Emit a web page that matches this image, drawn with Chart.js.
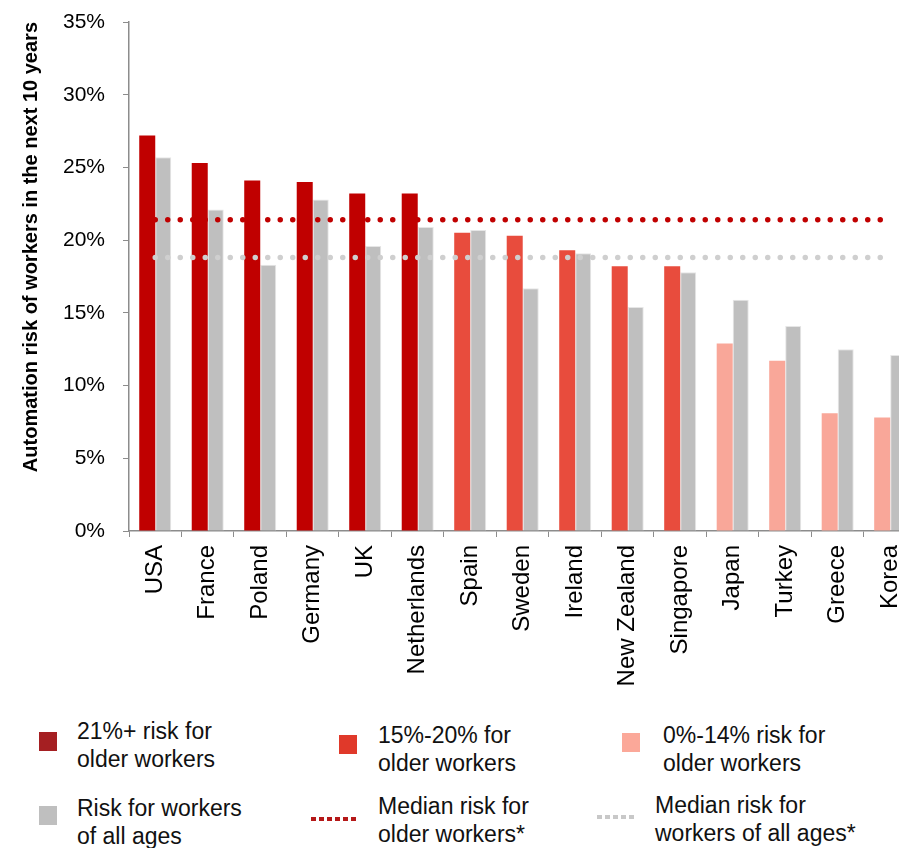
<!DOCTYPE html>
<html>
<head>
<meta charset="utf-8">
<script src="https://cdn.jsdelivr.net/npm/chart.js@4.4.1/dist/chart.umd.min.js"></script>
<style>
  html, body { margin: 0; padding: 0; background: #fff; overflow: hidden; width: 899px; height: 848px; }
  #wrap { position: relative; width: 899px; height: 848px; overflow: hidden; }
  #chartBox { position: absolute; left: 0; top: 0; width: 927px; height: 701px; }
  .leg { position: absolute; font-family: "Liberation Sans", Arial, sans-serif; font-size: 23px; line-height: 28px; color: #111; white-space: nowrap; }
  .sw { position: absolute; width: 18px; height: 19px; }
  .dots { position: absolute; height: 4px; }
</style>
</head>
<body>
<div id="wrap">
  <div id="chartBox"><canvas id="c" width="927" height="701"></canvas></div>

  <div class="sw" style="left:39px;top:732px;background:#A51F22;"></div>
  <div class="leg" style="left:77px;top:717px;">21%+ risk for<br>older workers</div>

  <div class="sw" style="left:339px;top:735px;background:#E0392A;"></div>
  <div class="leg" style="left:378px;top:721px;">15%-20% for<br>older workers</div>

  <div class="sw" style="left:622px;top:733px;background:#FBA899;"></div>
  <div class="leg" style="left:663px;top:721px;">0%-14% risk for<br>older workers</div>

  <div class="sw" style="left:39px;top:806px;background:#BFBFBF;"></div>
  <div class="leg" style="left:77px;top:794px;">Risk for workers<br>of all ages</div>

  <div class="dots" style="left:311px;top:817px;width:46px;background:repeating-linear-gradient(90deg,#B51818 0 5px,transparent 5px 8px);"></div>
  <div class="leg" style="left:378px;top:792px;">Median risk for<br>older workers*</div>

  <div class="dots" style="left:597px;top:815px;width:40px;background:repeating-linear-gradient(90deg,#C8C8C8 0 5px,transparent 5px 8px);"></div>
  <div class="leg" style="left:655px;top:791px;">Median risk for<br>workers of all ages*</div>
</div>

<script>
// ---- data ----
const countries = ['USA','France','Poland','Germany','UK','Netherlands','Spain','Sweden','Ireland','New Zealand','Singapore','Japan','Turkey','Greece','Korea'];
const olderWorkers = [27.2,25.3,24.1,24.0,23.2,23.2,20.5,20.3,19.3,18.2,18.2,12.9,11.7,8.1,7.8];
const allAges = [25.7,22.1,18.3,22.8,19.6,20.9,20.7,16.7,19.1,15.4,17.8,15.9,14.1,12.5,12.1];
const medianOlder = 21.4;
const medianAll = 18.8;
const yTicks = [0,5,10,15,20,25,30,35];

const DARK = '#C00000', MID = '#E84C3D', LIGHT = '#F9A799', GRAY = '#BFBFBF';
const olderColors = olderWorkers.map(v => v >= 21 ? DARK : (v >= 15 ? MID : LIGHT));

const FONT = '"Liberation Sans", Arial, sans-serif';

new Chart(document.getElementById('c'), {
  type: 'bar',
  data: {
    labels: countries,
    datasets: [
      {
        type: 'line', label: 'Median risk for older workers*',
        data: countries.map(() => medianOlder),
        borderColor: '#C00000', borderWidth: 5.5, borderDash: [0, 12.5], borderCapStyle: 'round',
        pointRadius: 0, fill: false, order: 0
      },
      {
        type: 'line', label: 'Median risk for workers of all ages*',
        data: countries.map(() => medianAll),
        borderColor: '#CFCFCF', borderWidth: 5.5, borderDash: [0, 12.5], borderCapStyle: 'round',
        pointRadius: 0, fill: false, order: 0
      },
      {
        label: 'Older workers', data: olderWorkers, backgroundColor: olderColors,
        borderWidth: 0, order: 1, categoryPercentage: 0.61, barPercentage: 1.0
      },
      {
        label: 'Risk for workers of all ages', data: allAges, backgroundColor: GRAY,
        borderColor: '#E6E6E6', borderWidth: 1, order: 1, categoryPercentage: 0.61, barPercentage: 1.0
      }
    ]
  },
  options: {
    responsive: false,
    animation: false,
    devicePixelRatio: 1,
    layout: { padding: { top: 22, right: 0, bottom: 0, left: 0 } },
    plugins: { legend: { display: false }, tooltip: { enabled: false } },
    scales: {
      x: {
        grid: { display: true, drawOnChartArea: false, drawTicks: true, tickLength: 6, color: '#8C8C8C', offset: true },
        border: { display: true, color: '#8C8C8C', width: 1.5 },
        ticks: {
          autoSkip: false, minRotation: 90, maxRotation: 90, padding: 8,
          color: '#000', font: { family: FONT, size: 24 }
        },
        afterFit: s => { s.height = 170; }
      },
      y: {
        min: 0, max: 35,
        afterBuildTicks: s => { s.ticks = yTicks.map(v => ({ value: v })); },
        grid: { display: true, drawOnChartArea: false, drawTicks: true, tickLength: 6, color: '#8C8C8C' },
        border: { display: true, color: '#8C8C8C', width: 1.5 },
        ticks: {
          padding: 18, color: '#000', font: { family: FONT, size: 21 },
          callback: v => v + '%'
        },
        title: {
          display: true, text: 'Automation risk of workers in the next 10 years',
          align: 'end', color: '#000', font: { family: FONT, size: 20, weight: 'bold' },
          padding: { top: 19, bottom: 0 }
        },
        afterFit: s => { s.width = 129; s.paddingTop = 0; s.paddingBottom = 0; }
      }
    }
  }
});
</script>
</body>
</html>
